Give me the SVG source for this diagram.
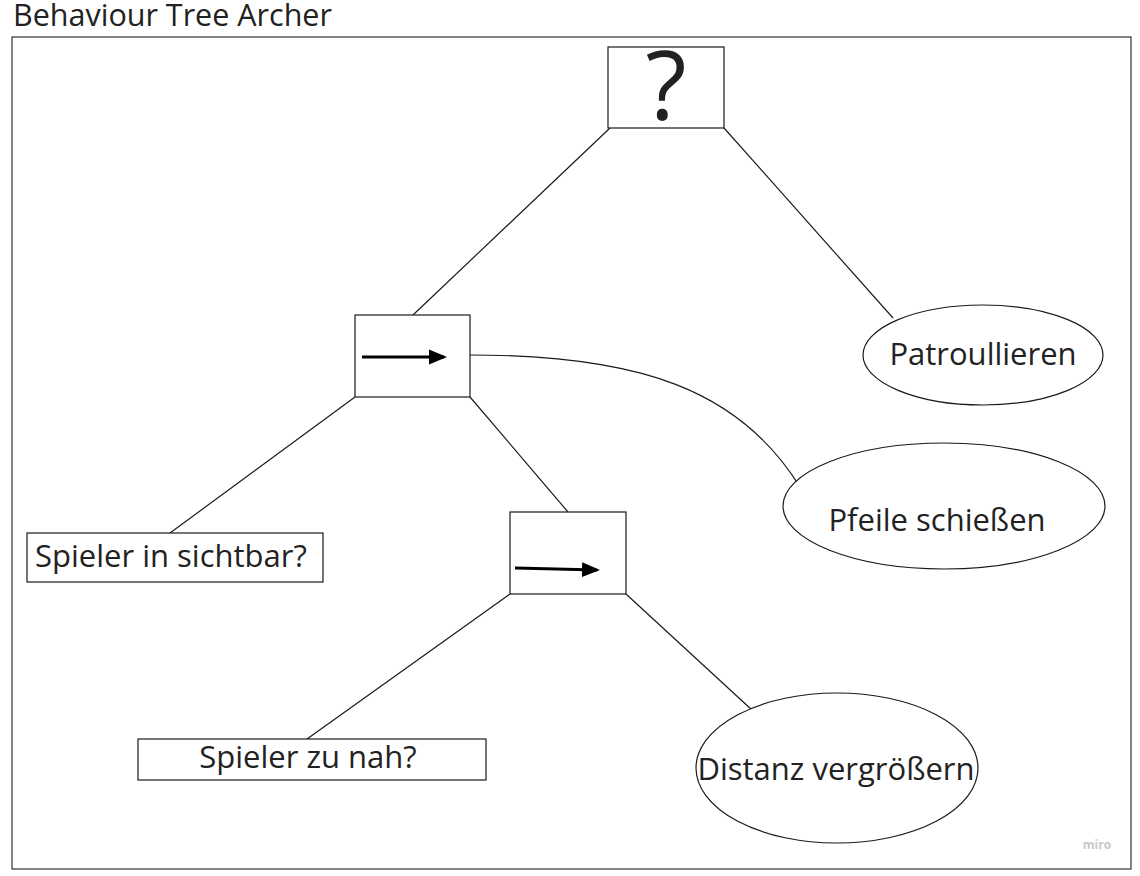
<svg xmlns="http://www.w3.org/2000/svg" width="1140" height="876" viewBox="0 0 1140 876">
<style>
.box{fill:#fff;stroke:#1a1a1a;stroke-width:1.2}
.el{fill:#fff;stroke:#1a1a1a;stroke-width:1.2}
.c{fill:none;stroke:#1a1a1a;stroke-width:1.2}
.t{font-family:"Open Sans",sans-serif;fill:#222}
.n{font-size:31px}
</style>
<defs>
<marker id="ah" markerWidth="6" markerHeight="6" refX="5" refY="3" orient="auto" markerUnits="strokeWidth">
<path d="M0,0.5 L6,3 L0,5.5 z" fill="#000"/>
</marker>
</defs>
<rect x="0" y="0" width="1140" height="876" fill="#fff"/>
<text class="t" x="13" y="26" font-size="30.5">Behaviour Tree Archer</text>
<rect x="12" y="37" width="1119" height="832" fill="none" stroke="#333" stroke-width="1.2"/>
<g id="connectors">
<line class="c" x1="610" y1="128" x2="413" y2="315"/>
<line class="c" x1="724" y1="128" x2="893" y2="318"/>
<path class="c" d="M470,355 C640,355 740,390 800,487"/>
<line class="c" x1="355" y1="397" x2="170" y2="533"/>
<line class="c" x1="470" y1="397" x2="568" y2="512"/>
<line class="c" x1="510" y1="594" x2="307" y2="739"/>
<line class="c" x1="626" y1="594" x2="752" y2="710"/>
</g>
<g id="root">
<rect class="box" x="608" y="47" width="116" height="81"/>
<text class="t" x="666" y="120" font-size="95" text-anchor="middle">?</text>
</g>
<g id="seq1">
<rect class="box" x="355" y="315" width="115" height="82"/>
<line x1="362" y1="357" x2="444" y2="357" stroke="#000" stroke-width="3" marker-end="url(#ah)"/>
</g>
<g id="seq2">
<rect class="box" x="510" y="512" width="116" height="82"/>
<line x1="515" y1="568" x2="597" y2="570" stroke="#000" stroke-width="3" marker-end="url(#ah)"/>
</g>
<g id="patroullieren">
<ellipse class="el" cx="983" cy="355" rx="120" ry="50"/>
<text class="t n" x="983" y="365" text-anchor="middle">Patroullieren</text>
</g>
<g id="pfeile">
<ellipse class="el" cx="944" cy="506" rx="161" ry="63"/>
<text class="t n" x="937" y="531" text-anchor="middle">Pfeile schießen</text>
</g>
<g id="sichtbar">
<rect class="box" x="27" y="533" width="296" height="49"/>
<text class="t n" x="35" y="567">Spieler in sichtbar?</text>
</g>
<g id="zunah">
<rect class="box" x="138" y="739" width="348" height="41"/>
<text class="t n" x="308" y="768" text-anchor="middle">Spieler zu nah?</text>
</g>
<g id="distanz">
<ellipse class="el" cx="837" cy="768" rx="141" ry="75"/>
<text class="t n" x="836" y="780" text-anchor="middle">Distanz vergrößern</text>
</g>
<text class="t" x="1097" y="849" font-size="12" style="fill:#c8c8c8;font-weight:700" text-anchor="middle">miro</text>
</svg>
